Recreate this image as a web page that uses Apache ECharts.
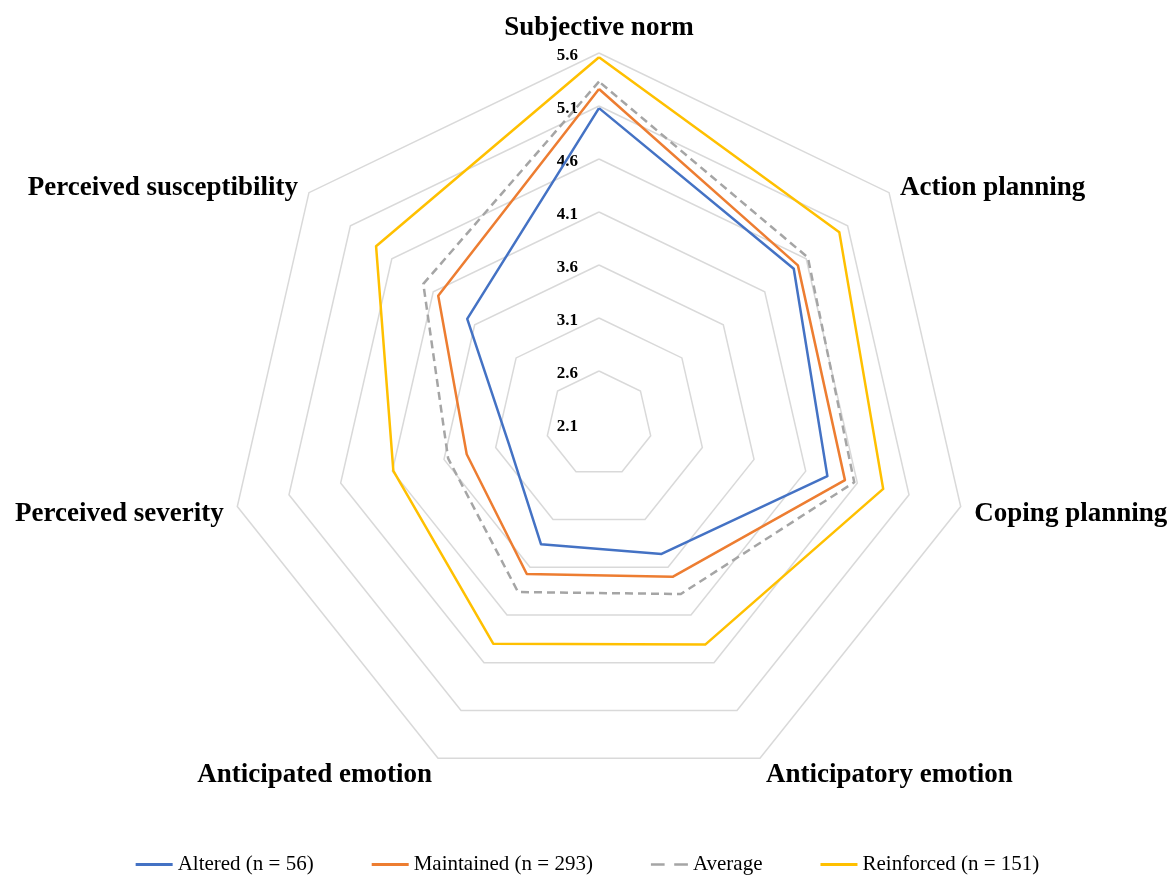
<!DOCTYPE html>
<html><head><meta charset="utf-8">
<script src="https://cdn.jsdelivr.net/npm/echarts@6/dist/echarts.min.js"></script>
<style>html,body{margin:0;padding:0;background:#fff}#chart{width:1175px;height:882px}</style>
</head><body><div id="chart"></div>
<script>
// Categories in clockwise order starting from the top
const categories = ['Subjective norm', 'Action planning', 'Coping planning', 'Anticipatory emotion', 'Anticipated emotion', 'Perceived severity', 'Perceived susceptibility'];
const seriesNames = ['Altered (n = 56)', 'Maintained (n = 293)', 'Average', 'Reinforced (n = 151)'];
const altered    = [5.08, 4.45, 4.31, 3.46, 3.36, 2.97, 3.69];
const maintained = [5.26, 4.50, 4.48, 3.70, 3.67, 3.38, 4.04];
const average    = [5.33, 4.62, 4.57, 3.88, 3.86, 3.56, 4.22];
const reinforced = [5.56, 5.00, 4.85, 4.41, 4.40, 4.09, 4.79];
const scaleMin = 2.1, scaleMax = 5.6, scaleStep = 0.5;

// ECharts lays radar indicators out counter-clockwise: reorder to get clockwise layout
const order = categories.map((_, i) => i === 0 ? 0 : categories.length - i);
const reorder = arr => order.map(i => arr[i]);

const colors = ['#4472C4', '#ED7D31', '#A5A5A5', '#FFC000'];
const valueSets = [altered, maintained, average, reinforced];
const font = 'Liberation Serif';
const nameStyle = { color: '#000', fontFamily: font, fontWeight: 'bold', fontSize: 27, lineHeight: 21 };

const chart = echarts.init(document.getElementById('chart'));
chart.setOption({
  backgroundColor: '#fff',
  animation: false,
  color: colors,
  radar: {
    center: [599, 424],
    radius: 371,
    startAngle: 90,
    shape: 'polygon',
    splitNumber: 7,
    nameGap: 14,
    indicator: reorder(categories).map(n => ({ name: n, min: scaleMin, max: scaleMax })),
    axisName: {
      formatter: name => (name === categories[0] ? '{top|' : '{n|') + name + '}',
      rich: {
        top: Object.assign({}, nameStyle),
        n: Object.assign({ padding: [9, 0, 0, 0] }, nameStyle)
      }
    },
    splitLine: { lineStyle: { color: '#d9d9d9', width: 1.5 } },
    splitArea: { show: false },
    axisLine: { show: false },
    axisTick: { show: false },
    axisLabel: { show: false }
  },
  grid: { left: 599, top: 53, width: 1, height: 371, containLabel: false },
  xAxis: { type: 'value', show: false },
  yAxis: {
    type: 'value', min: scaleMin, max: scaleMax, interval: scaleStep,
    axisLine: { show: false }, axisTick: { show: false }, splitLine: { show: false },
    axisLabel: { margin: 21, formatter: v => '{t|' + v.toFixed(1) + '}',
      rich: { t: { color: '#000', fontFamily: font, fontWeight: 'bold', fontSize: 17, padding: [5, 0, 0, 0] } } }
  },
  legend: {
    top: 849, left: 'center',
    itemWidth: 37, itemHeight: 3, itemGap: 58,
    icon: 'rect',
    textStyle: { fontFamily: font, fontSize: 21, color: '#000' },
    data: [
      { name: seriesNames[0] },
      { name: seriesNames[1] },
      { name: seriesNames[2], icon: 'path://M0,0h10v2h-10z M17,0h10v2h-10z' },
      { name: seriesNames[3] }
    ]
  },
  series: [{
    type: 'radar',
    symbol: 'none',
    data: valueSets.map((vals, k) => ({
      name: seriesNames[k],
      value: reorder(vals),
      lineStyle: { color: colors[k], width: 2.5, type: k === 2 ? [8, 5] : 'solid' },
      itemStyle: { color: colors[k] }
    }))
  }]
});
</script>
</body></html>
